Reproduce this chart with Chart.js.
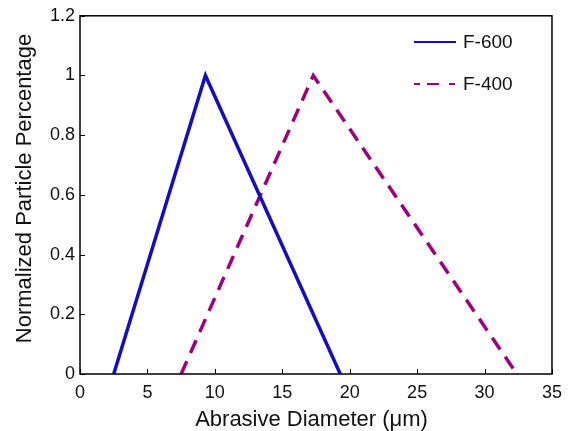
<!DOCTYPE html>
<html>
<head>
<meta charset="utf-8">
<script src="https://cdn.jsdelivr.net/npm/chart.js@4.4.0/dist/chart.umd.min.js"></script>
<style>
  html, body { margin: 0; padding: 0; background: #fff; }
  #wrap { width: 570px; height: 431px; }
</style>
</head>
<body>
<div id="wrap"><canvas id="sizeChart"></canvas></div>
<script>
// size distribution (triangular), x in um
const f600X = [2.5, 9.3, 19.3];
const f600Y = [0, 1, 0];
const f400X = [7.5, 17.3, 32.4];
const f400Y = [0, 1, 0];

const xTicks = [0, 5, 10, 15, 20, 25, 30, 35];
const yTicks = [0, 0.2, 0.4, 0.6, 0.8, 1, 1.2];

const xTitle = 'Abrasive Diameter (\u03bcm)';
const yTitle = 'Normalized Particle Percentage';

const blue = 'rgb(22,12,200)';
const purple = 'rgb(160,0,128)';
const fontFam = '"Liberation Sans", Arial, sans-serif';

function toPoints(xs, ys) {
    return xs.map(function (x, i) { return { x: x, y: ys[i] }; });
}

// box + inward ticks + axis titles + legend, MATLAB style
const boxPlugin = {
    id: 'boxPlugin',
    afterDraw: function (chart) {
        let ctx = chart.ctx;
        let a = chart.chartArea;
        let xs = chart.scales.x, ys = chart.scales.y;
        ctx.save();
        ctx.strokeStyle = '#000';
        ctx.lineWidth = 1.5;
        ctx.strokeRect(a.left, a.top, a.right - a.left, a.bottom - a.top);

        ctx.lineWidth = 1;
        ctx.beginPath();
        xTicks.forEach(function (v) {
            let px = Math.round(xs.getPixelForValue(v)) + 0.5;
            ctx.moveTo(px, a.bottom);
            ctx.lineTo(px, a.bottom - 5);
        });
        yTicks.forEach(function (v) {
            let py = Math.round(ys.getPixelForValue(v)) + 0.5;
            ctx.moveTo(a.left, py);
            ctx.lineTo(a.left + 5, py);
        });
        ctx.stroke();

        // axis titles
        ctx.fillStyle = '#111';
        ctx.font = '22px ' + fontFam;
        ctx.textAlign = 'center';
        ctx.textBaseline = 'alphabetic';
        ctx.fillText(xTitle, 311.5, 425.5);
        ctx.save();
        ctx.translate(31, 188.5);
        ctx.rotate(-Math.PI / 2);
        ctx.fillText(yTitle, 0, 0);
        ctx.restore();

        // legend
        let items = [
            { label: 'F-600', color: blue, dash: [], y: 42 },
            { label: 'F-400', color: purple, dash: [6, 7, 12, 10], y: 84 }
        ];
        ctx.font = '19px ' + fontFam;
        ctx.textAlign = 'left';
        ctx.textBaseline = 'middle';
        items.forEach(function (it) {
            ctx.beginPath();
            ctx.strokeStyle = it.color;
            ctx.lineWidth = 2;
            ctx.setLineDash(it.dash);
            ctx.moveTo(414, it.y);
            ctx.lineTo(456, it.y);
            ctx.stroke();
            ctx.setLineDash([]);
            ctx.fillStyle = '#111';
            ctx.fillText(it.label, 463, it.y + 1);
        });
        ctx.restore();
    }
};

let ctx = document.getElementById('sizeChart').getContext('2d');

let sizeChart = new Chart(ctx, {
    type: 'line',
    data: {
        datasets: [
            {
                label: 'F-600',
                data: toPoints(f600X, f600Y),
                borderColor: blue,
                borderWidth: 3.5,
                pointRadius: 0,
                fill: false,
                tension: 0
            },
            {
                label: 'F-400',
                data: toPoints(f400X, f400Y),
                borderColor: purple,
                borderWidth: 3.5,
                borderDash: [14, 9],
                pointRadius: 0,
                fill: false,
                tension: 0
            }
        ]
    },
    options: {
        responsive: true,
        maintainAspectRatio: false,
        animation: false,
        layout: {
            padding: { left: 0, right: 18, top: 15, bottom: 0 }
        },
        plugins: {
            legend: { display: false },
            tooltip: { enabled: false }
        },
        scales: {
            x: {
                type: 'linear',
                min: 0,
                max: 35,
                afterBuildTicks: function (s) { s.ticks = xTicks.map(function (v) { return { value: v }; }); },
                afterFit: function (s) { s.height = 57; },
                grid: { display: false, drawTicks: false },
                border: { display: false },
                ticks: {
                    color: '#111',
                    font: { family: fontFam, size: 18 },
                    padding: 8
                }
            },
            y: {
                min: 0,
                max: 1.2,
                afterBuildTicks: function (s) { s.ticks = yTicks.map(function (v) { return { value: v }; }); },
                afterFit: function (s) { s.width = 80; },
                grid: { display: false, drawTicks: false },
                border: { display: false },
                ticks: {
                    color: '#111',
                    font: { family: fontFam, size: 18 },
                    padding: 5,
                    callback: function (v) { return String(Math.round(v * 10) / 10); }
                }
            }
        }
    },
    plugins: [boxPlugin]
});
</script>
</body>
</html>
